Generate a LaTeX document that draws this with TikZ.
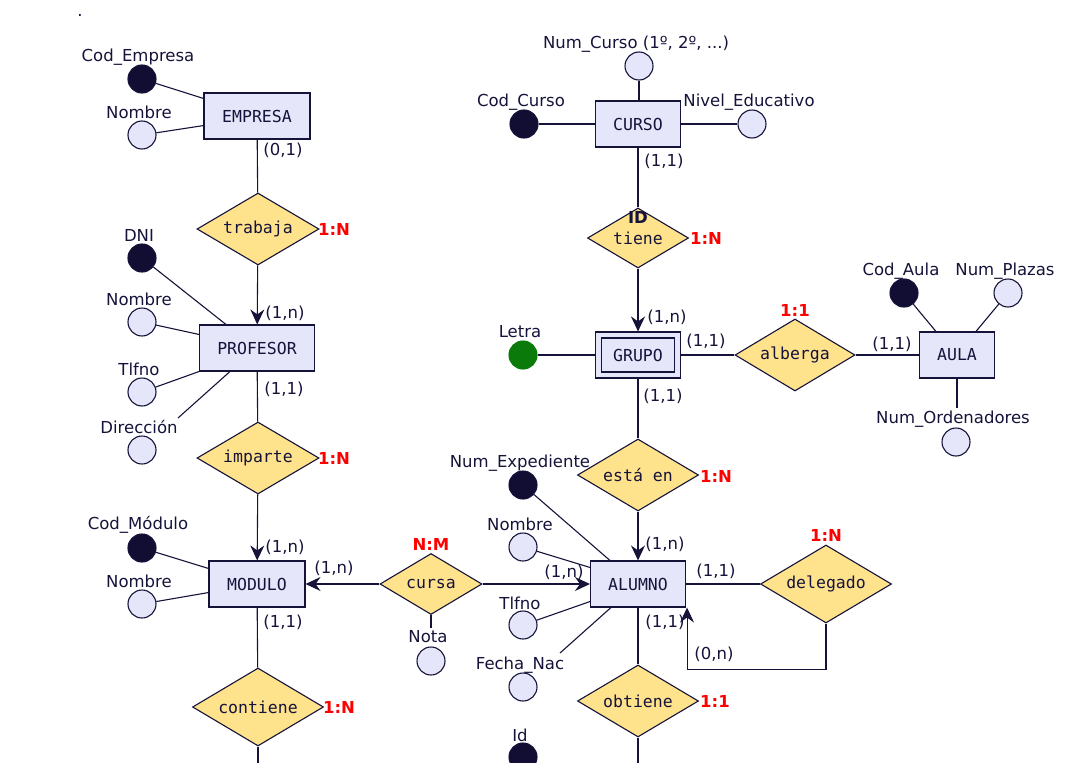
\documentclass[tikz,border=0pt]{standalone}
\usepackage{fontspec}
\setmainfont{DejaVu Sans}
\setmonofont{DejaVu Sans Mono}
\usetikzlibrary{shapes.geometric,arrows.meta,calc}
\definecolor{ink}{HTML}{15133A}
\definecolor{entfill}{HTML}{E6E6FA}
\definecolor{relfill}{HTML}{FFE28C}
\definecolor{keyfill}{HTML}{110D33}
\definecolor{letragreen}{HTML}{0A7B0A}
\newcommand\fs{\fontsize{16.5}{19}\selectfont}
\begin{document}
\begin{tikzpicture}[x=1pt,y=-1pt,line width=1.1pt,
  every node/.style={font=\fs,text=ink,inner sep=0pt},
  ent/.style={draw=ink,fill=entfill,minimum height=46pt,font=\fs\ttfamily},
  rel/.style={diamond,aspect=2,draw=ink,fill=relfill,font=\fs\ttfamily},
  att/.style={circle,draw=ink,fill=entfill,minimum size=28pt},
  key/.style={att,fill=keyfill},
  rd/.style={text=red,font=\fs\bfseries},
  conn/.style={draw=ink},
  arr/.style={draw=ink,-{Stealth[length=15pt,width=14pt,inset=5pt]}}]
\useasboundingbox (0,0) rectangle (1072,763);
\node (dot) at (80,15) {.};
% ---------------- EMPRESA
\node[ent,minimum width=106pt] (empresa) at (257,116) {EMPRESA};
\node[key] (ecod) at (142,79) {};
\node (ecodl) at (138,57) {Cod\_Empresa};
\node[att] (enom) at (142,135) {};
\node (enoml) at (139,112) {Nombre};
\draw[conn] (ecod) -- ($(empresa.north west)+(0,6)$);
\draw[conn] (enom) -- ($(empresa.south west)+(0,-14)$);
\node (c01) at (283,150) {(0,1)};
\node[rel,minimum width=122pt,minimum height=72pt] (trabaja) at (258,229) {trabaja};
\node[rd] (r1) at (334,229) {1:N};
\draw[conn] (empresa) -- (trabaja);
% ---------------- PROFESOR
\node[ent,minimum width=115pt] (profesor) at (257,348) {PROFESOR};
\draw[arr] (trabaja) -- (profesor);
\node (c02) at (285,313) {(1,n)};
\node[key] (pdni) at (142,258) {};
\node (pdnil) at (139,235) {DNI};
\node[att] (pnom) at (142,322) {};
\node (pnoml) at (139,299) {Nombre};
\node[att] (ptel) at (142,392) {};
\node (ptell) at (139,369) {Tlfno};
\node[att] (pdir) at (142,450) {};
\node (pdirl) at (139,427) {Dirección};
\coordinate (pdirend) at (178,418);
\draw[conn] (pdni) -- ($(profesor.north west)+(27,0)$);
\draw[conn] (pnom) -- ($(profesor.north west)+(0,10)$);
\draw[conn] (ptel) -- (profesor.south west);
\draw[conn] (pdirend) -- ($(profesor.south west)+(31,0)$);
\node (c03) at (284,389) {(1,1)};
\node[rel,minimum width=122pt,minimum height=72pt] (imparte) at (258,458) {imparte};
\node[rd] (r2) at (334,458) {1:N};
\draw[conn] (profesor) -- (imparte);
% ---------------- MODULO
\node[ent,minimum width=96pt] (modulo) at (257,584) {MODULO};
\draw[arr] (imparte) -- (modulo);
\node (c04) at (285,547) {(1,n)};
\node[key] (mcod) at (142,548) {};
\node (mcodl) at (138,525) {Cod\_Módulo};
\node[att] (mnom) at (142,604) {};
\node (mnoml) at (139,581) {Nombre};
\draw[conn] (mcod) -- ($(modulo.north west)+(0,8)$);
\draw[conn] (mnom) -- ($(modulo.south west)+(0,-15)$);
\node (c05) at (283,622) {(1,1)};
\node[rel,minimum width=131pt,minimum height=78pt] (contiene) at (258,707) {contiene};
\node[rd] (r3) at (339,707) {1:N};
\draw[conn] (modulo) -- (contiene);
\coordinate (cbot) at (258,770);
\draw[conn] (contiene) -- (cbot);
% ---------------- cursa
\node[rel,minimum width=102pt,minimum height=61pt] (cursa) at (431,584) {cursa};
\node[rd] (r4) at (431,544) {N:M};
\draw[arr] (cursa) -- (modulo);
\node (c06) at (334,568) {(1,n)};
\node[att] (nota) at (431,661) {};
\node (notal) at (428,637) {Nota};
\coordinate (notaend) at (431,628);
\draw[conn] (cursa) -- (notaend);
% ---------------- CURSO
\node[ent,minimum width=85pt] (curso) at (638,124) {CURSO};
\node[att] (cnum) at (639,66) {};
\node (cnuml) at (636,44) {Num\_Curso (1º, 2º, ...)};
\node[key] (ccod) at (524,124) {};
\node (ccodl) at (521,102) {Cod\_Curso};
\node[att] (cniv) at (752,124) {};
\node (cnivl) at (749,102) {Nivel\_Educativo};
\draw[conn] (cnum) -- (cnum|-curso.north);
\draw[conn] (ccod) -- (curso);
\draw[conn] (curso) -- (cniv);
\node (c07) at (664,161) {(1,1)};
\node[rel,minimum width=101pt,minimum height=60pt] (tiene) at (638,238) {tiene};
\node[font=\fs\bfseries] (idl) at (638,217) {ID};
\node[rd] (r5) at (706,238) {1:N};
\draw[conn] (curso) -- (tiene);
% ---------------- GRUPO
\node[ent,minimum width=85pt] (grupo) at (638,355) {};
\node[ent,minimum width=73pt,minimum height=34pt] (grupoin) at (638,355) {GRUPO};
\draw[arr] (tiene) -- (grupo);
\node (c08) at (667,317) {(1,n)};
\node[att,fill=letragreen,draw=letragreen] (letra) at (523,355) {};
\node (letral) at (520,332) {Letra};
\draw[conn] (letra) -- (grupo);
\node (c09) at (706,341) {(1,1)};
\node[rel,minimum width=120pt,minimum height=72pt] (alberga) at (795,355) {alberga};
\node[rd] (r6) at (795,310) {1:1};
\draw[conn] (grupo) -- (alberga);
% ---------------- AULA
\node[ent,minimum width=75pt] (aula) at (957,355) {AULA};
\draw[conn] (alberga) -- (aula);
\node (c10) at (892,344) {(1,1)};
\node[key] (acod) at (904,293) {};
\node (acodl) at (901,271) {Cod\_Aula};
\node[att] (apla) at (1008,293) {};
\node (aplal) at (1005,271) {Num\_Plazas};
\node[att] (aord) at (956,442) {};
\node (aordl) at (953,419) {Num\_Ordenadores};
\coordinate (aordend) at (957,408);
\draw[conn] (acod) -- ($(aula.north west)+(17,0)$);
\draw[conn] (apla) -- ($(aula.north west)+(57,0)$);
\draw[conn] (aula) -- (aordend);
\node (c11) at (663,396) {(1,1)};
\node[rel,minimum width=121pt,minimum height=72pt] (estaen) at (638,475) {está en};
\node[rd] (r7) at (716,476) {1:N};
\draw[conn] (grupo) -- (estaen);
% ---------------- ALUMNO
\node[ent,minimum width=95pt] (alumno) at (638,584) {ALUMNO};
\draw[arr] (estaen) -- (alumno);
\node (c12) at (665,544) {(1,n)};
\draw[arr] (cursa) -- (alumno);
\node (c13) at (564,572) {(1,n)};
\node[key] (anum) at (523,485) {};
\node (anuml) at (520,463) {Num\_Expediente};
\node[att] (anom) at (523,547) {};
\node (anoml) at (520,524) {Nombre};
\node[att] (atel) at (523,625) {};
\node (atell) at (520,603) {Tlfno};
\node[att] (afec) at (523,687) {};
\node (afecl) at (520,665) {Fecha\_Nac};
\coordinate (afecend) at (560,653);
\draw[conn] (anum) -- ($(alumno.north west)+(20,0)$);
\draw[conn] (anom) -- ($(alumno.north west)+(0,7)$);
\draw[conn] (atel) -- ($(alumno.south west)+(0,-6)$);
\draw[conn] (afecend) -- ($(alumno.south west)+(21,0)$);
\node[key] (aid) at (523,757) {};
\node (aidl) at (520,735) {Id};
% ---------------- delegado
\node[rel,minimum width=131pt,minimum height=78pt] (delegado) at (826,584) {delegado};
\node[rd] (r8) at (826,535) {1:N};
\draw[conn] (alumno) -- (delegado);
\node (c14) at (716,571) {(1,1)};
\draw[arr] (delegado.south) -- ++(0,46) -| ($(alumno.south east)+(1,0)$);
\node (c15) at (714,654) {(0,n)};
\node (c16) at (665,622) {(1,1)};
% ---------------- obtiene
\node[rel,minimum width=121pt,minimum height=72pt] (obtiene) at (638,701) {obtiene};
\node[rd] (r9) at (715,701) {1:1};
\draw[conn] (alumno) -- (obtiene);
\coordinate (obot) at (638,770);
\draw[conn] (obtiene) -- (obot);
\end{tikzpicture}
\end{document}
